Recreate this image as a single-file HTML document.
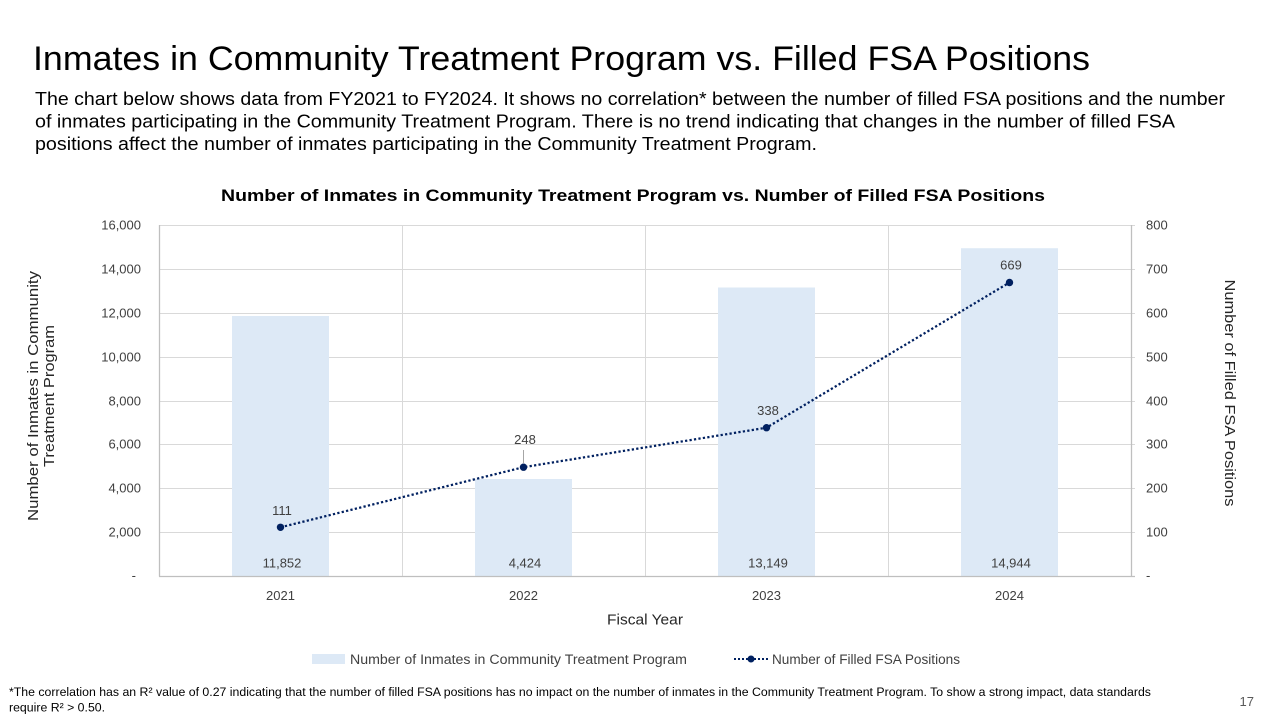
<!DOCTYPE html>
<html>
<head>
<meta charset="utf-8">
<style>
  html,body{margin:0;padding:0;background:#fff;}
  svg{display:block;}
  text{font-family:"Liberation Sans", Arial, sans-serif;}
</style>
</head>
<body>
<svg width="1280" height="720" viewBox="0 0 1280 720" xmlns="http://www.w3.org/2000/svg">
  <rect width="1280" height="720" fill="#fff"/>

  <!-- Page title -->
  <text x="33" y="70" font-size="34" fill="#000" textLength="1057" lengthAdjust="spacingAndGlyphs">Inmates in Community Treatment Program vs. Filled FSA Positions</text>

  <!-- Paragraph -->
  <text x="35" y="105" font-size="18" fill="#000" textLength="1190" lengthAdjust="spacingAndGlyphs">The chart below shows data from FY2021 to FY2024. It shows no correlation* between the number of filled FSA positions and the number</text>
  <text x="35" y="127.5" font-size="18" fill="#000" textLength="1140" lengthAdjust="spacingAndGlyphs">of inmates participating in the Community Treatment Program. There is no trend indicating that changes in the number of filled FSA</text>
  <text x="35" y="150" font-size="18" fill="#000" textLength="782" lengthAdjust="spacingAndGlyphs">positions affect the number of inmates participating in the Community Treatment Program.</text>

  <!-- Chart title -->
  <text x="633" y="201" font-size="17" font-weight="bold" fill="#000" text-anchor="middle" textLength="824" lengthAdjust="spacingAndGlyphs">Number of Inmates in Community Treatment Program vs. Number of Filled FSA Positions</text>

  <!-- Horizontal gridlines -->
  <g stroke="#d9d9d9" stroke-width="1">
    <line x1="159" y1="225.5" x2="1135" y2="225.5"/>
    <line x1="159" y1="269.5" x2="1135" y2="269.5"/>
    <line x1="159" y1="313.5" x2="1135" y2="313.5"/>
    <line x1="159" y1="357.5" x2="1135" y2="357.5"/>
    <line x1="159" y1="401.5" x2="1135" y2="401.5"/>
    <line x1="159" y1="444.5" x2="1135" y2="444.5"/>
    <line x1="159" y1="488.5" x2="1135" y2="488.5"/>
    <line x1="159" y1="532.5" x2="1135" y2="532.5"/>
    <!-- vertical gridlines -->
    <line x1="402.5" y1="225" x2="402.5" y2="576"/>
    <line x1="645.5" y1="225" x2="645.5" y2="576"/>
    <line x1="888.5" y1="225" x2="888.5" y2="576"/>
  </g>

  <!-- Bars -->
  <g fill="#dde9f6">
    <rect x="232" y="316" width="97" height="260"/>
    <rect x="475" y="479" width="97" height="97"/>
    <rect x="718" y="287.5" width="97" height="288.5"/>
    <rect x="961" y="248.2" width="97" height="327.8"/>
  </g>

  <!-- Axes -->
  <g stroke="#bfbfbf" stroke-width="1.3">
    <line x1="159.5" y1="225" x2="159.5" y2="576.5"/>
    <line x1="159" y1="576.5" x2="1135" y2="576.5"/>
    <line x1="1131.5" y1="225" x2="1131.5" y2="576.5"/>
  </g>

  <!-- Left tick labels -->
  <g font-size="13" fill="#404040" text-anchor="end">
    <text x="141" y="229.5">16,000</text>
    <text x="141" y="273.5">14,000</text>
    <text x="141" y="317.5">12,000</text>
    <text x="141" y="361.5">10,000</text>
    <text x="141" y="405.5">8,000</text>
    <text x="141" y="448.5">6,000</text>
    <text x="141" y="492.5">4,000</text>
    <text x="141" y="536.5">2,000</text>
    <text x="136" y="580">-</text>
  </g>

  <!-- Right tick labels -->
  <g font-size="13" fill="#404040" text-anchor="start">
    <text x="1146" y="229.5">800</text>
    <text x="1146" y="273.5">700</text>
    <text x="1146" y="317.5">600</text>
    <text x="1146" y="361.5">500</text>
    <text x="1146" y="405.5">400</text>
    <text x="1146" y="448.5">300</text>
    <text x="1146" y="492.5">200</text>
    <text x="1146" y="536.5">100</text>
    <text x="1146" y="580">-</text>
  </g>

  <!-- X labels -->
  <g font-size="13" fill="#404040" text-anchor="middle">
    <text x="280.5" y="600">2021</text>
    <text x="523.5" y="600">2022</text>
    <text x="766.5" y="600">2023</text>
    <text x="1009.5" y="600">2024</text>
  </g>

  <!-- Bar value labels -->
  <g font-size="13" fill="#404040" text-anchor="middle">
    <text x="282" y="567.5">11,852</text>
    <text x="525" y="567.5">4,424</text>
    <text x="768" y="567.5">13,149</text>
    <text x="1011" y="567.5">14,944</text>
  </g>

  <!-- Line series -->
  <polyline points="280.5,527.3 523.5,467.2 766.5,427.7 1009.5,282.5" fill="none" stroke="#002060" stroke-width="2.25" stroke-dasharray="2.25 2.25"/>
  <g fill="#002060">
    <circle cx="280.5" cy="527.3" r="3.7"/>
    <circle cx="523.5" cy="467.2" r="3.7"/>
    <circle cx="766.5" cy="427.7" r="3.7"/>
    <circle cx="1009.5" cy="282.5" r="3.7"/>
  </g>

  <!-- leader line for 248 -->
  <line x1="523.5" y1="450" x2="523.5" y2="463" stroke="#a6a6a6" stroke-width="1"/>

  <!-- Point labels -->
  <g font-size="13" fill="#404040" text-anchor="middle">
    <text x="282" y="515">111</text>
    <text x="525" y="444">248</text>
    <text x="768" y="415">338</text>
    <text x="1011" y="269.5">669</text>
  </g>

  <!-- Axis titles -->
  <text x="645" y="624.5" font-size="15" fill="#262626" text-anchor="middle" textLength="76" lengthAdjust="spacingAndGlyphs">Fiscal Year</text>

  <g transform="translate(38,396) rotate(-90)">
    <text x="0" y="0" font-size="15" fill="#262626" text-anchor="middle" textLength="250" lengthAdjust="spacingAndGlyphs">Number of Inmates in Community</text>
  </g>
  <g transform="translate(54,396) rotate(-90)">
    <text x="0" y="0" font-size="15" fill="#262626" text-anchor="middle" textLength="142" lengthAdjust="spacingAndGlyphs">Treatment Program</text>
  </g>

  <g transform="translate(1225,393) rotate(90)">
    <text x="0" y="0" font-size="15" fill="#262626" text-anchor="middle" textLength="227" lengthAdjust="spacingAndGlyphs">Number of Filled FSA Positions</text>
  </g>

  <!-- Legend -->
  <rect x="312" y="654" width="33" height="10" fill="#dde9f6"/>
  <text x="350" y="664" font-size="13.5" fill="#404040" textLength="337" lengthAdjust="spacingAndGlyphs">Number of Inmates in Community Treatment Program</text>
  <line x1="734" y1="659" x2="768" y2="659" stroke="#002060" stroke-width="2" stroke-dasharray="2 2"/>
  <circle cx="751" cy="659" r="3.5" fill="#002060"/>
  <text x="772" y="664" font-size="13.5" fill="#404040" textLength="188" lengthAdjust="spacingAndGlyphs">Number of Filled FSA Positions</text>

  <!-- Footnote -->
  <text x="9" y="696" font-size="12.3" fill="#000">*The correlation has an R² value of 0.27 indicating that the number of filled FSA positions has no impact on the number of inmates in the Community Treatment Program. To show a strong impact, data standards</text>
  <text x="9" y="711.5" font-size="12.3" fill="#000">require R² &gt; 0.50.</text>

  <!-- Page number -->
  <text x="1254" y="706" font-size="13" fill="#595959" text-anchor="end">17</text>
</svg>
</body>
</html>
